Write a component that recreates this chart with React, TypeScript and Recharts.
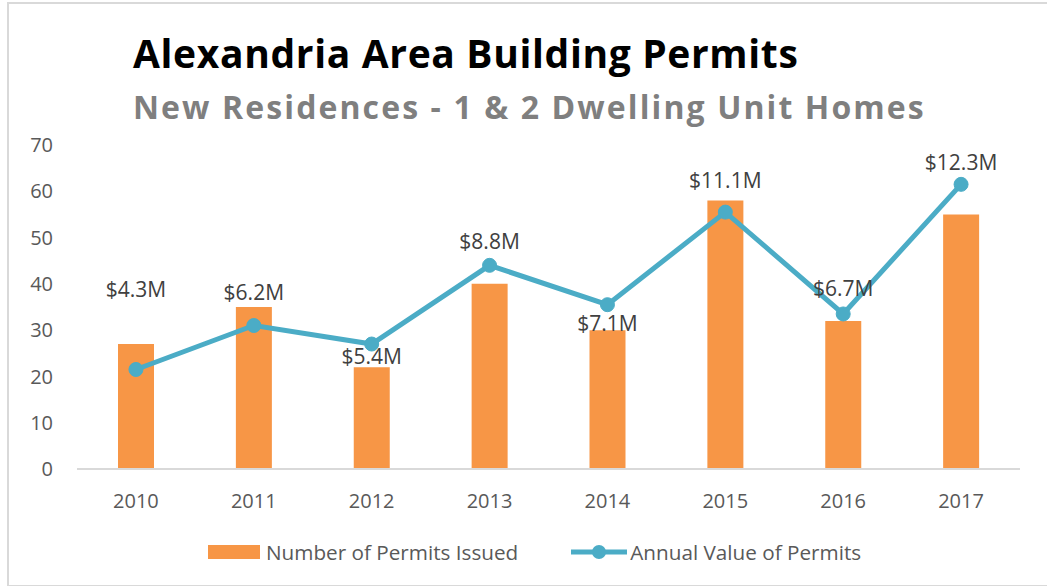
import { ComposedChart, Bar, Line, XAxis, YAxis, LabelList } from 'recharts';

const years = ['2010', '2011', '2012', '2013', '2014', '2015', '2016', '2017'];
const permitsIssued = [27, 35, 22, 40, 30, 58, 32, 55];
const annualValueM = [4.3, 6.2, 5.4, 8.8, 7.1, 11.1, 6.7, 12.3];
const permitTicks = [0, 10, 20, 30, 40, 50, 60, 70];

// vertical nudge (px) for each value label, they were hand-placed in the original
const labelNudge = [-80, -34, 12, -24, 18, -32, -26, -22];

const ORANGE = '#F79646';
const TEAL = '#4BACC6';
const AXIS_GRAY = '#d9d9d9';
const TEXT_GRAY = '#595959';
const FONT = '"Open Sans", "Noto Sans", sans-serif';

const data = years.map((year, i) => ({
  year,
  permits: permitsIssued[i],
  value: annualValueM[i],
}));

const TICK = { fill: TEXT_GRAY, fontSize: 20, fontFamily: FONT };

function ValueLabel(props: any) {
  const { x, y, index, value } = props;
  return (
    <text
      x={x}
      y={y + labelNudge[index]}
      textAnchor="middle"
      dominantBaseline="central"
      fill="#404040"
      fontSize={21}
      fontFamily={FONT}
    >
      {`$${value}M`}
    </text>
  );
}

export default function App() {
  return (
    <div
      style={{
        position: 'absolute',
        left: 0,
        top: 0,
        width: 1047,
        height: 586,
        overflow: 'hidden',
        background: '#fff',
        fontFamily: FONT,
      }}
    >
      <div
        style={{
          position: 'absolute',
          left: 7,
          top: 2,
          width: 1060,
          height: 581,
          border: `2px solid ${AXIS_GRAY}`,
        }}
      />
      <svg width={1047} height={140} style={{ position: 'absolute', left: 0, top: 0 }}>
        <text
          x={133}
          y={68}
          fontSize={39}
          fontWeight={700}
          letterSpacing={0.65}
          fill="#000"
          fontFamily={FONT}
        >
          Alexandria Area Building Permits
        </text>
        <text
          x={133}
          y={119}
          fontSize={32}
          fontWeight={700}
          letterSpacing={2.1}
          fill="#7f7f7f"
          fontFamily={FONT}
        >
          New Residences - 1 &amp; 2 Dwelling Unit Homes
        </text>
      </svg>
      <div style={{ position: 'absolute', left: 0, top: 0 }}>
        <ComposedChart
          width={1047}
          height={586}
          data={data}
          margin={{ top: 145, right: 27, bottom: 87, left: 0 }}
        >
          <XAxis
            dataKey="year"
            tick={TICK}
            tickLine={false}
            tickSize={0}
            tickMargin={25}
            height={30}
            axisLine={{ stroke: AXIS_GRAY, strokeWidth: 2 }}
          />
          <YAxis
            yAxisId="permits"
            domain={[0, 70]}
            ticks={permitTicks}
            tick={TICK}
            tickLine={false}
            tickSize={0}
            tickMargin={24}
            axisLine={false}
            width={77}
          />
          <YAxis yAxisId="value" orientation="right" domain={[0, 14]} hide />
          <Bar
            yAxisId="permits"
            dataKey="permits"
            name="Number of Permits Issued"
            fill={ORANGE}
            barSize={36}
            isAnimationActive={false}
          />
          <Line
            yAxisId="value"
            dataKey="value"
            name="Annual Value of Permits"
            type="linear"
            stroke={TEAL}
            strokeWidth={5}
            dot={{ r: 7, fill: TEAL, stroke: TEAL, strokeWidth: 1 }}
            isAnimationActive={false}
          >
            <LabelList dataKey="value" content={ValueLabel} />
          </Line>
        </ComposedChart>
      </div>
      {/* legend */}
      <div
        style={{
          position: 'absolute',
          left: 208,
          top: 538,
          display: 'flex',
          alignItems: 'center',
          fontSize: 20.7,
          color: TEXT_GRAY,
          whiteSpace: 'nowrap',
        }}
      >
        <div style={{ width: 52, height: 14, background: ORANGE, marginRight: 6 }} />
        <span>Number of Permits Issued</span>
        <svg width={56} height={20} style={{ marginLeft: 53, marginRight: 3 }}>
          <line x1={0} y1={10} x2={56} y2={10} stroke={TEAL} strokeWidth={5} />
          <circle cx={28} cy={10} r={7} fill={TEAL} />
        </svg>
        <span>Annual Value of Permits</span>
      </div>
    </div>
  );
}
